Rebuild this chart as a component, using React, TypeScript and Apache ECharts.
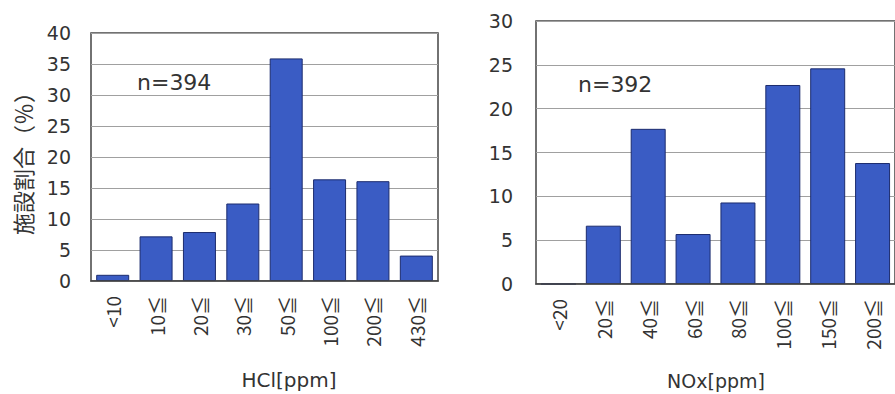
import React, { useEffect, useRef } from "react";
import * as echarts from "echarts";

const hclCategories = ["<10", "10≦", "20≦", "30≦", "50≦", "100≦", "200≦", "430≦"];
const hclValues = [1.0, 7.2, 7.9, 12.5, 35.9, 16.4, 16.1, 4.1];
const noxCategories = ["<20", "20≦", "40≦", "60≦", "80≦", "100≦", "150≦", "200≦"];
const noxValues = [0, 6.65, 17.7, 5.7, 9.3, 22.7, 24.6, 13.8];
const hclTicks = { min: 0, max: 40, interval: 5 };
const noxTicks = { min: 0, max: 30, interval: 5 };

const FONT = "'DejaVu Sans', sans-serif";
const JP = "'Noto Sans CJK JP', sans-serif";

export default function App() {
  const ref = useRef<HTMLDivElement>(null);
  useEffect(() => {
    if (!ref.current) return;
    const chart = echarts.init(ref.current, undefined, { renderer: "svg" });
    const axisLabel = { color: "#333", fontSize: 19, fontFamily: FONT };
    const xLabel = { color: "#333", fontFamily: JP, rotate: 90, margin: 15, interval: 0, fontSize: 19 };
    const barStyle = { color: "#3a5cc4", borderColor: "#1c2c6e", borderWidth: 1 };
    chart.setOption({
      animation: false,
      grid: [
        { left: 91, top: 33, width: 347, height: 248, show: true, borderColor: "#444", borderWidth: 1.5 },
        { left: 536, top: 21, width: 365, height: 263, show: true, borderColor: "#444", borderWidth: 1.5 },
      ],
      xAxis: [
        { type: "category", gridIndex: 0, data: hclCategories, axisTick: { show: false }, axisLine: { lineStyle: { color: "#444", width: 1.5 } }, axisLabel: xLabel, z: 5 },
        { type: "category", gridIndex: 1, data: noxCategories, axisTick: { show: false }, axisLine: { lineStyle: { color: "#444", width: 1.5 } }, axisLabel: xLabel, z: 5 },
      ],
      yAxis: [
        { type: "value", gridIndex: 0, ...hclTicks, axisLine: { show: false }, axisTick: { show: false }, axisLabel: { ...axisLabel, margin: 20 }, splitLine: { lineStyle: { color: "#a0a0a0", width: 1 } } },
        { type: "value", gridIndex: 1, ...noxTicks, axisLine: { show: false }, axisTick: { show: false }, axisLabel: { ...axisLabel, margin: 23 }, splitLine: { lineStyle: { color: "#a0a0a0", width: 1 } } },
      ],
      series: [
        { type: "bar", xAxisIndex: 0, yAxisIndex: 0, data: hclValues, barWidth: 33, itemStyle: barStyle, z: 2 },
        { type: "bar", xAxisIndex: 1, yAxisIndex: 1, data: noxValues, barWidth: 35, itemStyle: barStyle, z: 2 },
      ],
      graphic: [
        { type: "text", x: 22, y: 158, rotation: Math.PI / 2, style: { text: "施設割合（％）", fontSize: 22, fontFamily: JP, fill: "#333", align: "center", verticalAlign: "middle" } },
        { type: "text", x: 137, y: 82, style: { text: "n=394", fontSize: 22, fontFamily: FONT, fill: "#333", align: "left", verticalAlign: "middle" } },
        { type: "text", x: 578, y: 84, style: { text: "n=392", fontSize: 22, fontFamily: FONT, fill: "#333", align: "left", verticalAlign: "middle" } },
        { type: "text", x: 289, y: 380, style: { text: "HCl[ppm]", fontSize: 20, fontFamily: FONT, fill: "#333", align: "center", verticalAlign: "middle" } },
        { type: "text", x: 716, y: 381, style: { text: "NOx[ppm]", fontSize: 19, fontFamily: FONT, fill: "#333", align: "center", verticalAlign: "middle" } },
      ],
    });
    return () => chart.dispose();
  }, []);
  return <div ref={ref} style={{ position: "fixed", left: 0, top: 0, width: 895, height: 394, background: "#fff" }} />;
}
